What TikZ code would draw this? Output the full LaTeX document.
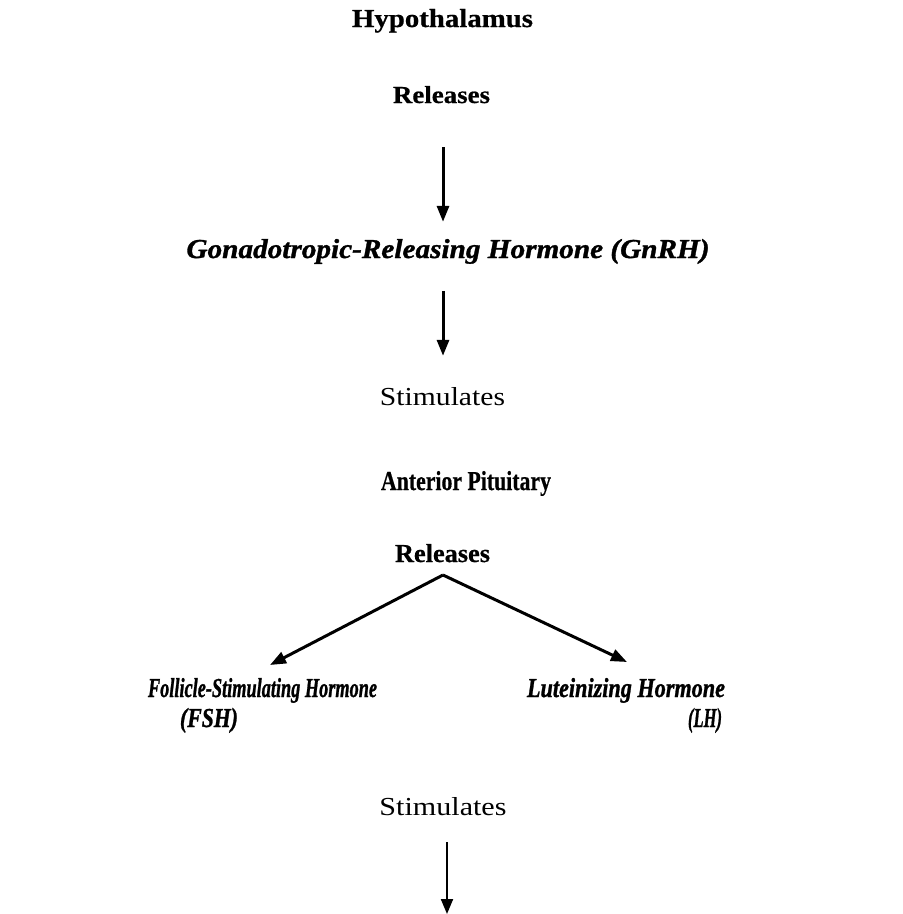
\documentclass[tikz,border=0pt]{standalone}
\usepackage{graphicx}
\usepackage{fontspec}
\setmainfont[BoldFeatures={FakeBold=0.6},BoldItalicFeatures={FakeBold=1.2}]{Liberation Serif}
\usetikzlibrary{arrows.meta}
\tikzset{
  lbl/.style={inner sep=0pt, anchor=base},
  arr/.style={line width=3pt, -{Triangle[width=12pt,length=16pt]}},
  thinarr/.style={line width=2pt, -{Triangle[width=12pt,length=15pt]}}
}
\newcommand{\fitbf}[3]{\resizebox{#1pt}{#2pt}{\bfseries #3}}
\newcommand{\fitbi}[3]{\resizebox{#1pt}{#2pt}{\bfseries\itshape #3}}
\newcommand{\fitrm}[3]{\resizebox{#1pt}{#2pt}{#3}}
\begin{document}
\begin{tikzpicture}[x=1pt,y=1pt]
\useasboundingbox (0,0) rectangle (903,-914);
\node[lbl] (hyp)  at (442.5,-27)  {\fitbf{181}{18}{Hypothalamus}};
\node[lbl] (rel1) at (441.5,-103) {\fitbf{97}{17}{Releases}};
\node[lbl] (gnrh) at (448,-258)   {\fitbi{523}{19}{Gonadotropic-Releasing Hormone (GnRH)}};
\node[lbl] (stim1) at (442.5,-405) {\fitrm{125}{18}{Stimulates}};
\node[lbl] (ant)  at (466,-490)   {\fitbf{170}{19}{Anterior Pituitary}};
\node[lbl] (rel2) at (442.5,-562) {\fitbf{95}{18}{Releases}};
\node[lbl] (fsh)  at (262.5,-697) {\fitbi{229}{19}{Follicle-Stimulating Hormone}};
\node[lbl] (fshab) at (209,-727)  {\fitbi{58}{19}{(FSH)}};
\node[lbl] (lh)   at (626,-697)   {\fitbi{198}{19}{Luteinizing Hormone}};
\node[lbl] (lhab) at (705,-727)   {\fitbi{34}{19}{(LH)}};
\node[lbl] (stim2) at (443,-815)  {\fitrm{127}{18}{Stimulates}};

\coordinate (split) at (443,-575);
\coordinate (fshtip) at (270,-665);
\coordinate (lhtip) at (627,-662);
\coordinate (endb) at (447,-914);

\draw[arr] ([yshift=-44pt]rel1.south -| 443,0) -- ([yshift=17pt]gnrh.north -| 443,0);
\draw[arr] ([yshift=-282pt]hyp.north -| 443,0) -- ([yshift=31pt]stim1.north -| 443,0);
\draw[arr] (split) -- (fshtip);
\draw[arr] (split) -- (lhtip);
\draw[thinarr] ([yshift=-27pt]stim2.south -| endb) -- (endb);
\end{tikzpicture}
\end{document}
